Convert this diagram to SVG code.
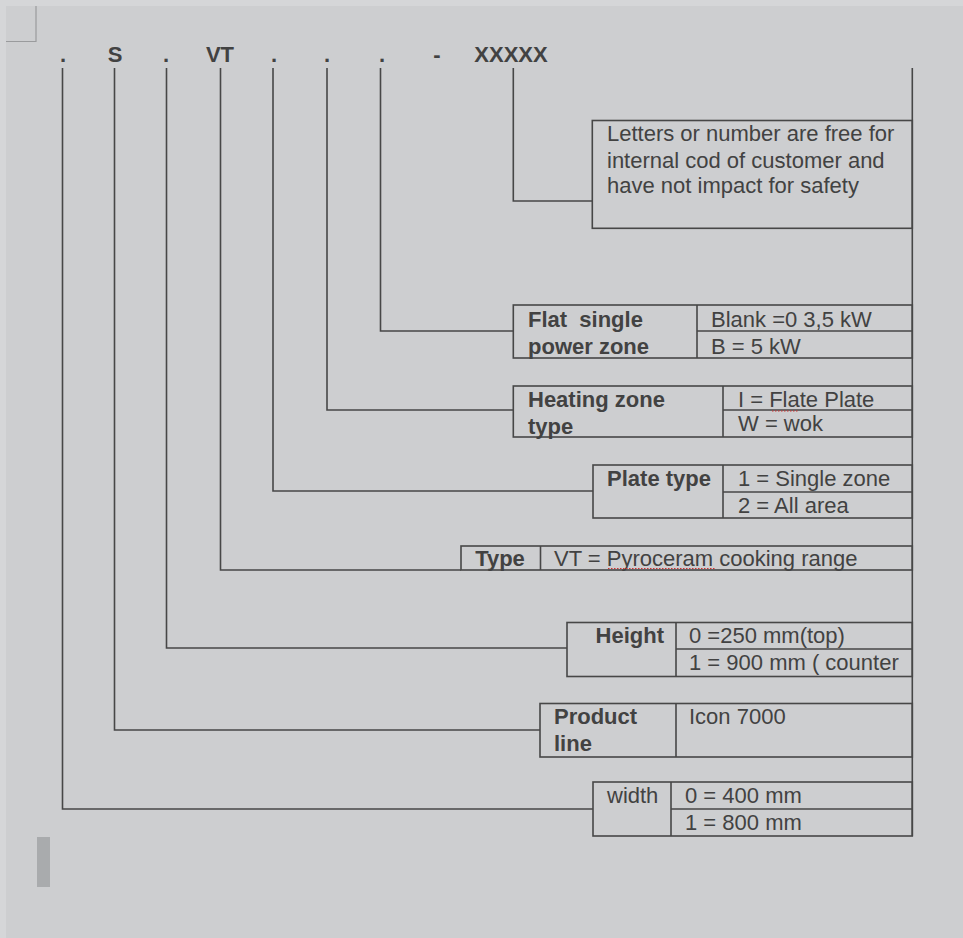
<svg xmlns="http://www.w3.org/2000/svg" width="963" height="938" viewBox="0 0 963 938">
<style>
.ln{fill:none;stroke:#474747;stroke-width:1.6}
.bx{fill:none;stroke:#474747;stroke-width:1.6}
text{font-family:"Liberation Sans",Arial,sans-serif;font-size:22px;fill:#424242}
.b{font-weight:bold}
.top{font-weight:bold;font-size:22px}
.pre{white-space:pre}
.sq{fill:none;stroke:#d03030;stroke-width:1;stroke-dasharray:1.5 1.5}
</style>
<rect x="0" y="0" width="963" height="938" fill="#d5d6d8"/>
<rect x="6" y="6" width="957" height="932" fill="#cdced0"/>
<path d="M36 6V41.5H6" fill="none" stroke="#9a9b9d" stroke-width="1.2"/>
<rect x="37" y="837" width="13" height="50" fill="#a9abad"/>
<g id="code">
<text class="top" x="63" y="62" text-anchor="middle">.</text>
<text class="top" x="115" y="62" text-anchor="middle">S</text>
<text class="top" x="166" y="62" text-anchor="middle">.</text>
<text class="top" x="220" y="62" text-anchor="middle">VT</text>
<text class="top" x="274" y="62" text-anchor="middle">.</text>
<text class="top" x="327" y="62" text-anchor="middle">.</text>
<text class="top" x="382" y="62" text-anchor="middle">.</text>
<text class="top" x="437" y="62" text-anchor="middle">-</text>
<text class="top" x="511" y="62" text-anchor="middle">XXXXX</text>
</g>
<g id="connectors">
<path class="ln" d="M912.3 68V836"/>
<path class="ln" d="M513.3 68V201H592.3"/>
<path class="ln" d="M380.5 68V331H513.3"/>
<path class="ln" d="M327 68V410H513.3"/>
<path class="ln" d="M273 68V491H593"/>
<path class="ln" d="M220.5 68V570H461"/>
<path class="ln" d="M166.5 68V648H567"/>
<path class="ln" d="M114.5 68V730H540"/>
<path class="ln" d="M62.5 68V809H593"/>
</g>
<g id="letters">
<rect class="bx" x="592.3" y="120.5" width="320" height="107.8"/>
<text x="607" y="141">Letters or number are free for</text>
<text x="607" y="168">internal cod of customer and</text>
<text x="607" y="193">have not impact for safety</text>
</g>
<g id="flat">
<rect class="bx" x="513.3" y="305" width="399" height="53"/>
<path class="ln" d="M697 305V358M697 331H912.3"/>
<text class="b pre" x="528" y="327">Flat  single</text>
<text class="b" x="528" y="354">power zone</text>
<text x="711" y="327">Blank =0 3,5 kW</text>
<text x="711" y="354">B = 5 kW</text>
</g>
<g id="heating">
<rect class="bx" x="513.3" y="386" width="399" height="51"/>
<path class="ln" d="M723 386V437M723 410H912.3"/>
<text class="b" x="528" y="407">Heating zone</text>
<text class="b" x="528" y="434">type</text>
<text x="738" y="407">I = Flate Plate</text>
<text x="738" y="431">W = wok</text>
<path class="sq" d="M772 411H799"/>
</g>
<g id="plate">
<rect class="bx" x="593" y="465" width="319.3" height="53"/>
<path class="ln" d="M723 465V518M723 492H912.3"/>
<text class="b" x="711" y="486" text-anchor="end">Plate type</text>
<text x="738" y="486">1 = Single zone</text>
<text x="738" y="513">2 = All area</text>
</g>
<g id="type">
<rect class="bx" x="461" y="546" width="451.3" height="24"/>
<path class="ln" d="M540.5 546V570"/>
<text class="b" x="500" y="566" text-anchor="middle">Type</text>
<text x="554" y="566">VT = Pyroceram cooking range</text>
<path class="sq" d="M608 568.5H716"/>
</g>
<g id="height">
<rect class="bx" x="567" y="622.5" width="345.3" height="54"/>
<path class="ln" d="M676 622.5V676.5M676 649H912.3"/>
<text class="b" x="664" y="643" text-anchor="end">Height</text>
<text x="689" y="643">0 =250 mm(top)</text>
<text x="689" y="670">1 = 900 mm ( counter</text>
</g>
<g id="product">
<rect class="bx" x="540" y="703.5" width="372.3" height="53.5"/>
<path class="ln" d="M676 703.5V757"/>
<text class="b" x="554" y="724">Product</text>
<text class="b" x="554" y="751">line</text>
<text x="689" y="724">Icon 7000</text>
</g>
<g id="width">
<rect class="bx" x="593" y="782" width="319.3" height="54"/>
<path class="ln" d="M671 782V836M671 809H912.3"/>
<text x="607" y="803">width</text>
<text x="685" y="803">0 = 400 mm</text>
<text x="685" y="830">1 = 800 mm</text>
</g>
</svg>
